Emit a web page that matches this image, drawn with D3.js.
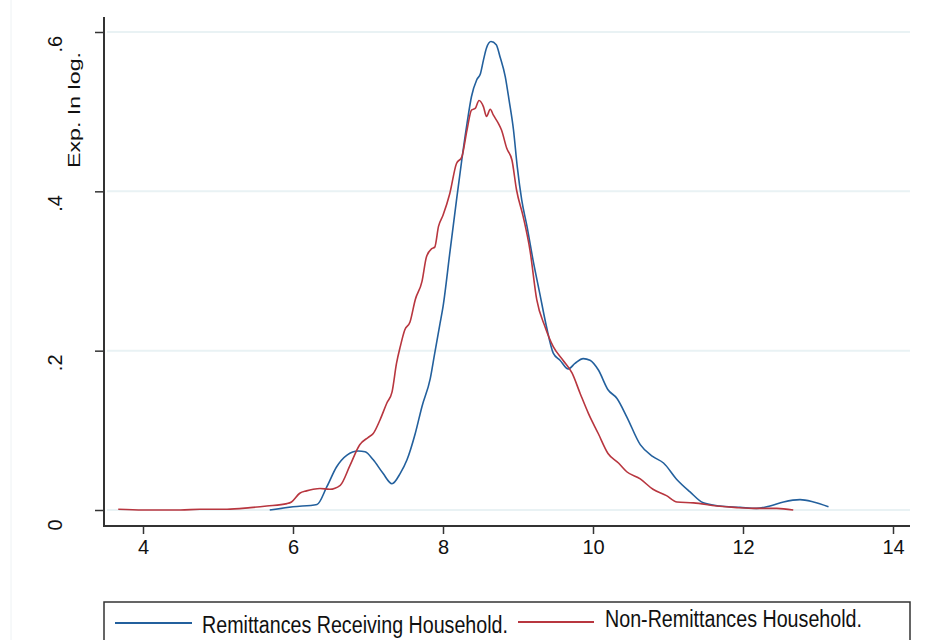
<!DOCTYPE html>
<html>
<head>
<meta charset="utf-8">
<script src="https://cdn.jsdelivr.net/npm/d3@7"></script>
<style>
  html, body { margin: 0; padding: 0; background: #ffffff; }
  svg { display: block; }
  text { font-family: "Liberation Sans", Arial, Helvetica, sans-serif; fill: #111; }
</style>
</head>
<body>
<svg id="chart" width="948" height="640"></svg>
<script>
// ---- data ----
const xTicks = [4, 6, 8, 10, 12, 14];
const yTicks = [0, 0.2, 0.4, 0.6];
const yTickLabels = ["0", ".2", ".4", ".6"];
const yTitle = "Exp. In log.";
const seriesNames = ["Remittances Receiving Household.", "Non-Remittances Household."];

const blueX = [5.69,6.0,6.32,6.45,6.58,6.72,6.87,6.96,7.07,7.20,
               7.32,7.43,7.52,7.63,7.72,7.83,7.89,7.96,8.00,8.09,
               8.18,8.25,8.32,8.38,8.45,8.50,8.54,8.58,8.64,8.71,
               8.76,8.83,8.88,8.94,8.99,9.05,9.12,9.20,9.29,9.38,
               9.47,9.56,9.67,9.76,9.87,9.96,10.07,10.20,10.32,10.45,
               10.63,10.80,10.94,11.12,11.29,11.47,11.69,11.96,12.18,12.36,
               12.54,12.76,12.94,13.14];
const blueY = [0.0,0.004,0.007,0.029,0.054,0.069,0.074,0.073,0.063,0.046,
               0.033,0.046,0.063,0.096,0.13,0.165,0.197,0.234,0.255,0.322,
               0.389,0.439,0.485,0.519,0.540,0.548,0.565,0.580,0.588,0.584,
               0.569,0.544,0.515,0.477,0.431,0.389,0.356,0.314,0.272,0.230,
               0.197,0.188,0.177,0.184,0.190,0.188,0.176,0.151,0.140,0.117,
               0.082,0.067,0.059,0.038,0.023,0.009,0.005,0.0034,0.002,0.005,
               0.010,0.013,0.010,0.004];

const redX = [3.67,4.0,4.5,4.76,5.12,5.43,5.65,5.92,5.98,6.09,
              6.18,6.27,6.36,6.49,6.63,6.76,6.89,7.00,7.07,7.16,
              7.25,7.32,7.38,7.43,7.49,7.56,7.63,7.72,7.78,7.85,
              7.89,7.94,8.00,8.09,8.18,8.25,8.32,8.38,8.43,8.48,
              8.54,8.58,8.63,8.67,8.74,8.78,8.85,8.92,8.98,9.07,
              9.16,9.25,9.36,9.47,9.60,9.72,9.83,9.94,10.07,10.20,
              10.34,10.45,10.63,10.80,10.98,11.12,11.34,11.65,11.92,12.18,
              12.45,12.67];
const redY = [0.001,0.0,0.0,0.001,0.001,0.003,0.005,0.008,0.010,0.021,
              0.024,0.026,0.027,0.026,0.031,0.056,0.082,0.091,0.096,0.113,
              0.134,0.148,0.184,0.205,0.226,0.236,0.264,0.287,0.318,0.328,
              0.330,0.356,0.370,0.397,0.435,0.443,0.477,0.502,0.504,0.514,
              0.506,0.494,0.503,0.496,0.485,0.477,0.454,0.439,0.402,0.368,
              0.326,0.264,0.230,0.205,0.188,0.172,0.146,0.121,0.096,0.071,
              0.059,0.048,0.039,0.026,0.018,0.010,0.009,0.005,0.003,0.002,
              0.002,0.0];

// ---- layout ----
const colors = ["#23609d", "#b8363f"];
const plot = { left: 104, right: 910, top: 17, axisY: 526 };
const svg = d3.select("#chart");

const x = d3.scaleLinear().domain([4, 14]).range([143, 893]);
const y = d3.scaleLinear().domain([0, 0.6]).range([510, 32]);

// faint outer frame line
svg.append("line").attr("x1", 11).attr("x2", 11).attr("y1", 0).attr("y2", 640)
  .attr("stroke", "#eef2f4").attr("stroke-width", 1);

// gridlines
svg.append("g").selectAll("line").data(yTicks).join("line")
  .attr("x1", plot.left + 3).attr("x2", plot.right)
  .attr("y1", d => y(d)).attr("y2", d => y(d))
  .attr("stroke", "#e9f2f4").attr("stroke-width", 2);

// axes lines
svg.append("line").attr("x1", plot.left).attr("x2", plot.left)
  .attr("y1", plot.top).attr("y2", plot.axisY + 1)
  .attr("stroke", "#333").attr("stroke-width", 2);
svg.append("line").attr("x1", plot.left - 1).attr("x2", plot.right)
  .attr("y1", plot.axisY).attr("y2", plot.axisY)
  .attr("stroke", "#333").attr("stroke-width", 2);

// x axis via d3.axisBottom
const xAxis = d3.axisBottom(x).tickValues(xTicks).tickSize(8).tickPadding(6)
  .tickFormat(d3.format("d"));
const gx = svg.append("g").attr("transform", `translate(0,${plot.axisY})`).call(xAxis);
gx.select(".domain").remove();
gx.selectAll(".tick line").attr("stroke", "#333").attr("stroke-width", 1.5);
gx.selectAll(".tick text").attr("font-size", 20).attr("fill", "#111")
  .attr("font-family", "Liberation Sans, Arial, sans-serif");

// y axis via d3.axisLeft
const yAxis = d3.axisLeft(y).tickValues(yTicks).tickSize(9)
  .tickFormat((d, i) => yTickLabels[i]);
const gy = svg.append("g").attr("transform", `translate(${plot.left},0)`).call(yAxis);
gy.select(".domain").remove();
gy.selectAll(".tick line").attr("stroke", "#333").attr("stroke-width", 1.5);
gy.selectAll(".tick text")
  .attr("font-size", 20).attr("fill", "#111")
  .attr("font-family", "Liberation Sans, Arial, sans-serif")
  .attr("text-anchor", "start")
  .attr("x", null).attr("dy", null)
  .attr("transform", "translate(-42,20) rotate(-90)");

// y title
svg.append("text")
  .attr("transform", `translate(80,168) rotate(-90)`)
  .attr("font-size", 17)
  .attr("textLength", 116).attr("lengthAdjust", "spacingAndGlyphs")
  .text(yTitle);

// lines
const line = d3.line().x(d => x(d[0])).y(d => y(d[1])).curve(d3.curveMonotoneX);
const series = [
  blueX.map((v, i) => [v, blueY[i]]),
  redX.map((v, i) => [v, redY[i]])
];
svg.append("g").selectAll("path").data(series).join("path")
  .attr("d", line)
  .attr("fill", "none")
  .attr("stroke", (d, i) => colors[i])
  .attr("stroke-width", 1.6)
  .attr("stroke-linejoin", "round");

// legend
svg.append("rect").attr("x", plot.left).attr("y", 602)
  .attr("width", plot.right - plot.left).attr("height", 70)
  .attr("fill", "#fff").attr("stroke", "#333").attr("stroke-width", 1.5);

const legendItems = [
  { x1: 115, x2: 192, ly: 623, tx: 202, ty: 633, tw: 306 },
  { x1: 518, x2: 594, ly: 622, tx: 605, ty: 627, tw: 257 }
];
const lg = svg.append("g");
lg.selectAll("line").data(legendItems).join("line")
  .attr("x1", d => d.x1).attr("x2", d => d.x2)
  .attr("y1", d => d.ly).attr("y2", d => d.ly)
  .attr("stroke", (d, i) => colors[i]).attr("stroke-width", 2);
lg.selectAll("text").data(legendItems).join("text")
  .attr("x", d => d.tx).attr("y", d => d.ty)
  .attr("font-size", 23)
  .attr("textLength", d => d.tw).attr("lengthAdjust", "spacingAndGlyphs")
  .text((d, i) => seriesNames[i]);
</script>
</body>
</html>
